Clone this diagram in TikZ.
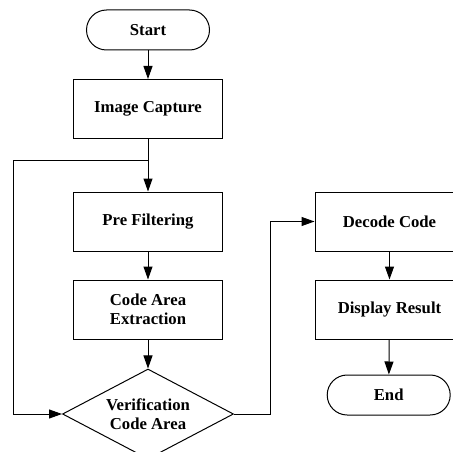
\documentclass[tikz,border=0pt]{standalone}
\usepackage{fontspec}
\setmainfont{Liberation Serif}
\usetikzlibrary{shapes.geometric,shapes.misc,arrows.meta}
\begin{document}
\begin{tikzpicture}[x=1pt,y=-1pt,
  every node/.style={font=\fontsize{16.7}{19}\selectfont\bfseries, align=center, line width=1pt},
  box/.style={draw, rectangle, minimum width=149pt, minimum height=59pt, inner sep=0pt},
  term/.style={draw, rounded rectangle, minimum width=123pt, minimum height=40pt, inner sep=0pt},
  dia/.style={draw, diamond, shape aspect=1.9, minimum width=171pt, minimum height=90pt, inner sep=0pt},
  arr/.style={line width=1pt, -{Triangle[length=13pt,width=9pt]}},
  ln/.style={line width=1pt}]
\useasboundingbox (0,0) rectangle (453,452);
\clip (0,0) rectangle (453,452);
\node[term] (start) at (148,30) {Start};
\node[box] (cap) at (148,109) {Image Capture};
\node[box] (pre) at (148,221.5) {Pre Filtering};
\node[box] (ext) at (148,309.5) {Code Area\\Extraction};
\node[dia] (ver) at (148,414) {Verification\\Code Area};
\node[box] (dec) at (389.5,221.5) {Decode Code};
\node[box] (dis) at (389.5,309.5) {Display Result};
\node[term] (end) at (388.7,395) {End};
\coordinate (j) at (148,160);
\coordinate (lc) at (13,160);
\coordinate (rc) at (270,414);
\draw[arr] (start) -- (cap);
\draw[arr] (cap) -- (pre);
\draw[arr] (pre) -- (ext);
\draw[arr] (ext) -- (ver);
\draw[arr] (dec) -- (dis);
\draw[arr] (dis) -- (end);
\draw[arr] (j) -- (lc) |- (ver.west);
\draw[arr] (ver.east) -- (rc) |- (dec.west);
\end{tikzpicture}
\end{document}
